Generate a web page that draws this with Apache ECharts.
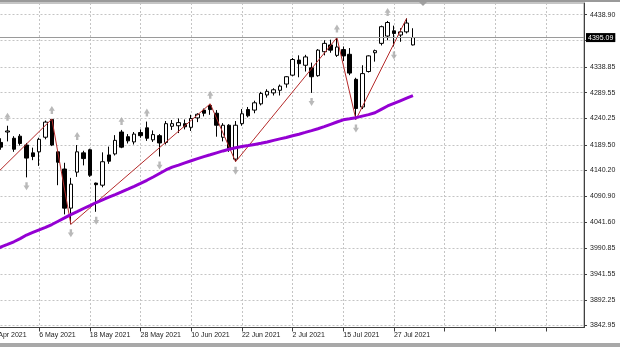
<!DOCTYPE html>
<html><head><meta charset="utf-8">
<script src="https://cdn.jsdelivr.net/npm/echarts@6/dist/echarts.min.js"></script>
<style>html,body{margin:0;padding:0;background:#fff}#c{width:620px;height:347px}</style>
</head><body><div id="c"></div><script>
const dates = ['26 Apr 2021','27 Apr 2021','28 Apr 2021','29 Apr 2021','30 Apr 2021','3 May 2021','4 May 2021','5 May 2021','6 May 2021','7 May 2021','10 May 2021','11 May 2021','12 May 2021','13 May 2021','14 May 2021','17 May 2021','18 May 2021','19 May 2021','20 May 2021','21 May 2021','24 May 2021','25 May 2021','26 May 2021','27 May 2021','28 May 2021','1 Jun 2021','2 Jun 2021','3 Jun 2021','4 Jun 2021','7 Jun 2021','8 Jun 2021','9 Jun 2021','10 Jun 2021','11 Jun 2021','14 Jun 2021','15 Jun 2021','16 Jun 2021','17 Jun 2021','18 Jun 2021','21 Jun 2021','22 Jun 2021','23 Jun 2021','24 Jun 2021','25 Jun 2021','28 Jun 2021','29 Jun 2021','30 Jun 2021','1 Jul 2021','2 Jul 2021','6 Jul 2021','7 Jul 2021','8 Jul 2021','9 Jul 2021','12 Jul 2021','13 Jul 2021','14 Jul 2021','15 Jul 2021','16 Jul 2021','19 Jul 2021','20 Jul 2021','21 Jul 2021','22 Jul 2021','23 Jul 2021','26 Jul 2021','27 Jul 2021','28 Jul 2021','29 Jul 2021','30 Jul 2021'];
const opens = [4185,4187,4194,4214,4202,4206,4189,4174,4176,4204,
4238,4176,4143,4068,4137,4174,4180,4116,4112,4170,
4172,4214,4205,4195,4213,4222,4199,4207,4194,4225,
4226,4230,4223,4241,4256,4265,4250,4204,4227,4162,
4230,4257,4256,4268,4285,4289,4294,4306,4323,4352,
4342,4337,4322,4368,4381,4361,4372,4363,4315,4262,
4330,4366,4384,4398,4408,4400,4406,4381];
const highs = [4194,4195,4202,4226,4206,4210,4193,4184,4203,4236,
4239,4178,4155,4126,4189,4178,4182,4117,4175,4186,
4208,4218,4210,4214,4219,4234,4217,4210,4235,4237,
4240,4238,4247,4250,4259,4268,4256,4231,4229,4235,
4258,4262,4274,4291,4296,4298,4305,4321,4356,4361,
4362,4347,4373,4390,4391,4395,4378,4375,4318,4342,
4361,4372,4418,4427,4418,4413,4432,4413];
const lows = [4119,4175,4180,4196,4176,4188,4127,4160,4149,4200,
4187,4112,4056,4037,4128,4150,4128,4061,4108,4153,
4169,4183,4192,4190,4203,4197,4195,4167,4190,4218,
4212,4219,4216,4233,4244,4247,4205,4196,4176,4157,
4226,4242,4250,4265,4280,4284,4284,4299,4321,4319,
4330,4289,4320,4361,4366,4358,4350,4323,4238,4258,
4328,4349,4380,4390,4378,4387,4403,4380];
const closes = [4187,4186,4185,4216,4181,4192,4164,4167,4200,4233,
4189,4156,4068,4114,4176,4163,4131,4113,4157,4158,
4198,4185,4197,4210,4207,4202,4209,4193,4230,4230,
4232,4224,4240,4248,4250,4257,4227,4227,4182,4227,
4249,4245,4270,4288,4292,4295,4302,4320,4353,4345,
4358,4320,4371,4384,4371,4377,4360,4327,4259,4326,
4360,4370,4416,4424,4403,4406,4423,4395.09];
const maValues = [3981.2,3986.4,3993.7,3998.5,4003.5,4009.5,4016.4,4021.4,4026.4,4031.2,
4036.6,4042.9,4049.2,4055.6,4061.3,4067.3,4073.0,4078.8,4084.0,4089.0,
4094.0,4099.2,4104.5,4109.9,4115.5,4121.4,4127.8,4134.5,4141.2,4146.6,
4150.6,4154.9,4158.9,4162.9,4166.8,4170.4,4174.1,4177.7,4180.8,4183.9,
4186.2,4188.1,4190.2,4192.3,4194.8,4197.9,4200.8,4203.6,4206.7,4209.8,
4213.2,4216.7,4220.3,4224.2,4228.8,4233.2,4237.4,4239.4,4241.5,4244.5,
4247.4,4250.9,4257.4,4263.9,4268.9,4273.9,4278.9,4283.9];
const zigzag = [['26 Apr 2021',4119],['10 May 2021',4239],['13 May 2021',4037],['15 Jun 2021',4268],['21 Jun 2021',4157],['14 Jul 2021',4395],['19 Jul 2021',4238],['29 Jul 2021',4432]];
const fractalUp = [['29 Apr 2021',4226],['10 May 2021',4239],['14 May 2021',4189],['25 May 2021',4218],['1 Jun 2021',4234],['15 Jun 2021',4268],['14 Jul 2021',4395],['26 Jul 2021',4427]];
const fractalDown = [['4 May 2021',4127],['13 May 2021',4037],['19 May 2021',4061],['3 Jun 2021',4167],['21 Jun 2021',4157],['8 Jul 2021',4289],['19 Jul 2021',4238],['27 Jul 2021',4378]];
const yTicks = [4438.90,4389.60,4338.85,4289.55,4240.25,4189.50,4140.20,4090.90,4041.60,3990.85,3941.55,3892.25,3842.95];

const futureSlots = Array.from({length:27},(_, i)=>'+'+(i+1));
const cats = dates.concat(futureSlots);
const ohlc = dates.map((d,i)=>[opens[i], closes[i], lows[i], highs[i]]);
const font = 'Liberation Sans';
const upPath = 'path://M5,0 L10,6 L7,6 L7,10 L3,10 L3,6 L0,6 Z';
const downPath = 'path://M5,10 L10,4 L7,4 L7,0 L3,0 L3,4 L0,4 Z';

const chart = echarts.init(document.getElementById('c'));
chart.setOption({
  animation:false,
  backgroundColor:'#fff',
  grid:{left:-11.5, right:36, top:3, bottom:19.5, show:true, borderColor:'#8c8c8c', borderWidth:1,
    outerBoundsMode:'none', containLabel:false},
  xAxis:{type:'category', data:cats, boundaryGap:false,
    axisLine:{show:true, lineStyle:{color:'#404040'}},
    axisTick:{show:true, interval:7, length:4, lineStyle:{color:'#404040'}},
    axisLabel:{interval:7, align:'left', margin:4, fontSize:7, fontFamily:font, color:'#222',
      formatter:v=>v.startsWith('+')?'':v},
    splitLine:{show:true, interval:7, lineStyle:{color:'#c4c4c4', type:[2,2], width:1}}},
  yAxis:{type:'value', position:'right', min:3839.1, max:4461.4,
    axisLine:{show:true, lineStyle:{color:'#404040'}},
    axisTick:{show:true, length:3, customValues:yTicks, lineStyle:{color:'#404040'}},
    axisLabel:{customValues:yTicks, formatter:v=>v.toFixed(2), margin:6, fontSize:7, fontFamily:font, color:'#222'},
    splitLine:{show:true, lineStyle:{color:'#c4c4c4', type:[2,2], width:1}}},
  series:[
    {type:'candlestick', data:ohlc, barWidth:4, z:3,
      itemStyle:{color:'#fff', color0:'#000', borderColor:'#000', borderColor0:'#000', borderWidth:1},
      markLine:{silent:true, symbol:['none','none'], animation:false,
        data:[{yAxis:closes[closes.length-1]}],
        lineStyle:{color:'#9a9a9a', type:'solid', width:1},
        label:{show:true, position:'end', distance:2, formatter:p=>p.value.toFixed(2),
          backgroundColor:'#000', color:'#fff', padding:[1,2,1,2], fontSize:7, fontFamily:font}}},
    {type:'line', data:zigzag, z:4, symbol:'none', connectNulls:true,
      lineStyle:{color:'#b52a2a', width:1}},
    {type:'line', data:maValues, z:5, symbol:'none',
      lineStyle:{color:'#9400d3', width:3}},
    {type:'scatter', data:fractalUp, z:6, symbol:upPath, symbolSize:[6,8], symbolOffset:[0,-9],
      itemStyle:{color:'#a8a8a8'}},
    {type:'scatter', data:fractalDown, z:6, symbol:downPath, symbolSize:[6,8], symbolOffset:[0,9],
      itemStyle:{color:'#a8a8a8'}}
  ],
  graphic:[
    {type:'rect', shape:{x:0,y:0,width:620,height:2}, style:{fill:'#9a9a9a'}, silent:true},
    {type:'rect', shape:{x:0,y:343,width:620,height:4}, style:{fill:'#a8a8a8'}, silent:true},
    {type:'polygon', shape:{points:[[419,2],[427,2],[423,6]]}, style:{fill:'#a0a0a0'}, silent:true}
  ]
});
</script></body></html>
